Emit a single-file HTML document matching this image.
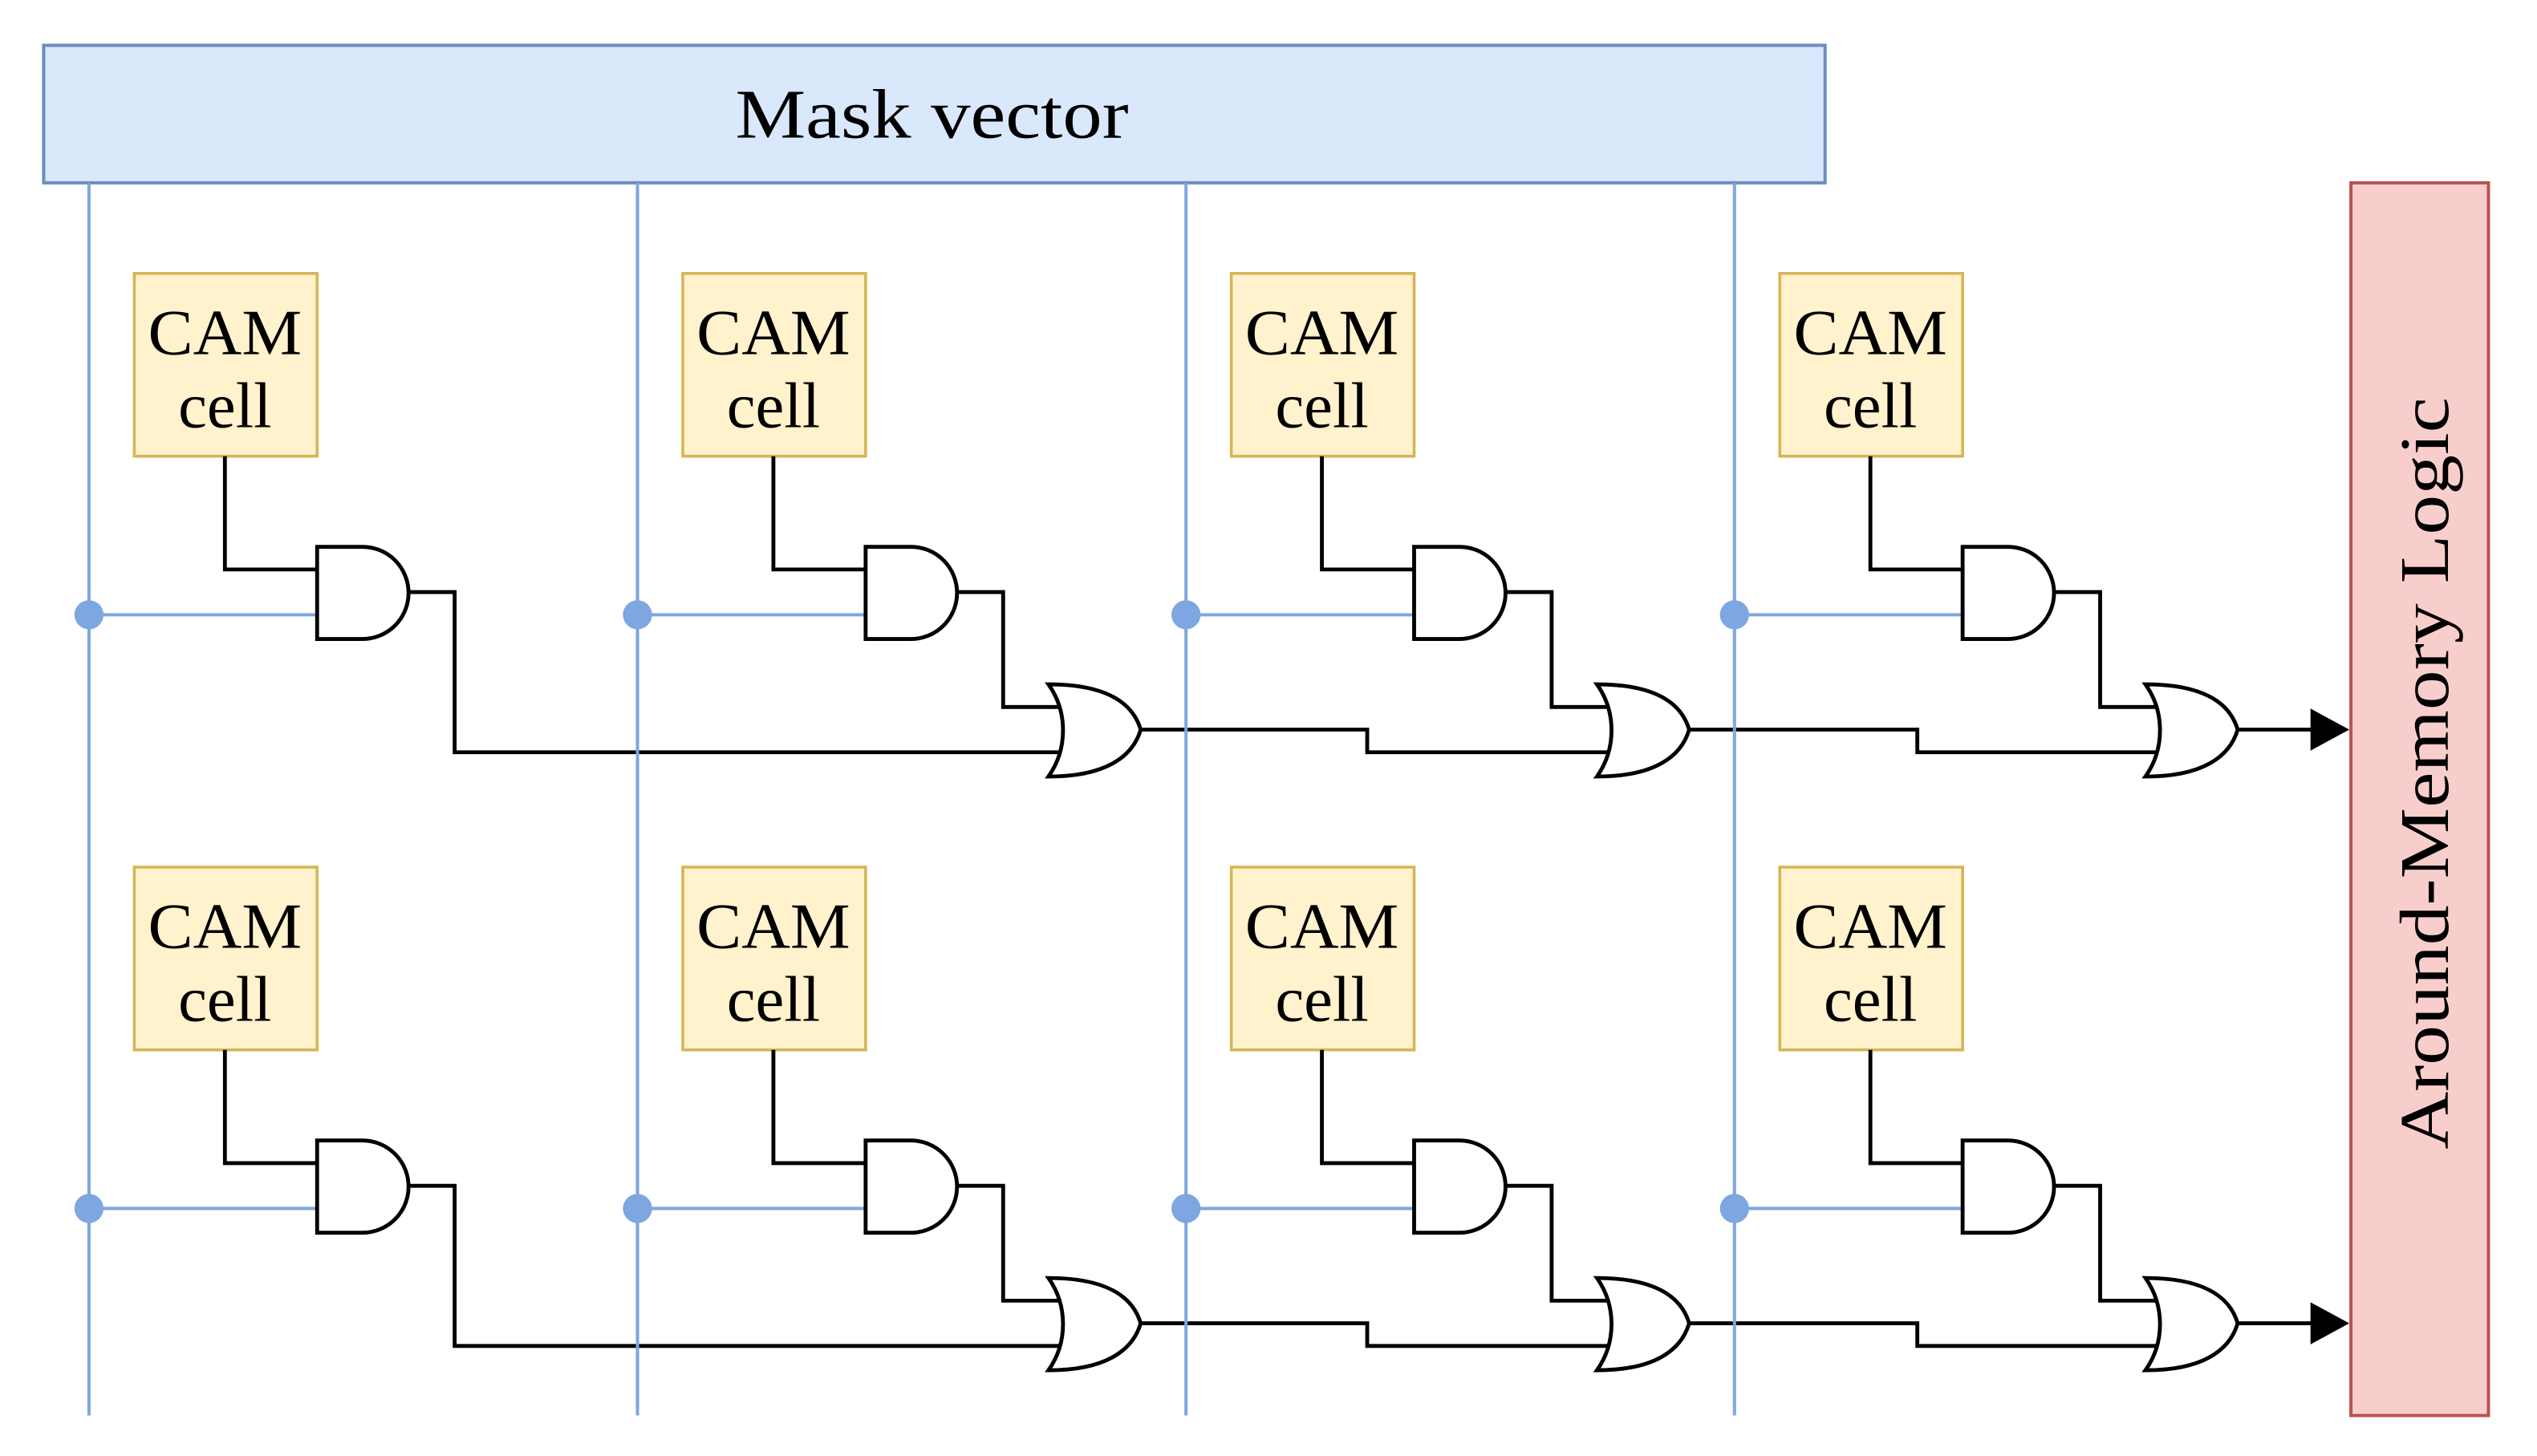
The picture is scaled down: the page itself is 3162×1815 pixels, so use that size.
<!DOCTYPE html>
<html><head><meta charset="utf-8"><style>
html,body{margin:0;padding:0;background:#fff;}
svg{display:block;}
text{font-family:"Liberation Serif",serif;fill:#000;}
</style></head><body>
<svg width="3162" height="1815" viewBox="0 0 1568 900" xmlns="http://www.w3.org/2000/svg">
<defs>
<g id="colbase">
  <rect x="83" y="169" width="113" height="113" fill="#fff2cc" stroke="#d6b656" stroke-width="1.8"/>
  <path d="M139,282 V352 H198" fill="none" stroke="#000" stroke-width="2.4"/>
  <path d="M55,380 H196" fill="none" stroke="#7ea6e0" stroke-width="2"/>
  <circle cx="55" cy="380" r="9" fill="#7ea6e0"/>
  <path d="M196,338 H224 A28.5,28.5 0 0 1 224,395 H196 Z" fill="#fff" stroke="#000" stroke-width="2.4"/>
</g>
<path id="or" d="M0,0 C35,0 52,11 57,28 C52,45 35,57 0,57 C12,40 12,17 0,0 Z" fill="#fff" stroke="#000" stroke-width="2.4"/>
<g id="rowwires" fill="none" stroke="#000" stroke-width="2.4">
  <path d="M252,366 H281 V465 H658"/>
  <path d="M591,366 H620 V437 H658"/>
  <path d="M705,451 H845 V465 H997"/>
  <path d="M930,366 H959 V437 H997"/>
  <path d="M1044,451 H1185 V465 H1336"/>
  <path d="M1269,366 H1298 V437 H1336"/>
  <path d="M1383,451 H1432"/>
</g>
</defs>

<rect x="27" y="28" width="1101" height="85" fill="#dae8fc" stroke="#6c8ebf" stroke-width="2"/>
<text x="576" y="85" font-size="43" text-anchor="middle" textLength="243" lengthAdjust="spacingAndGlyphs">Mask vector</text>

<rect x="1453" y="113" width="85" height="762" fill="#f8cecc" stroke="#b85450" stroke-width="2"/>
<text transform="translate(1513,478) rotate(-90)" font-size="43" text-anchor="middle" textLength="465" lengthAdjust="spacingAndGlyphs">Around-Memory Logic</text>

<g>
  <use href="#rowwires"/>
  <use href="#rowwires" transform="translate(0,367)"/>
  <polygon points="1428,438 1452,451 1428,464" fill="#000"/>
  <polygon points="1428,805 1452,818 1428,831" fill="#000"/>
</g>

<g stroke="#7ea6e0" stroke-width="2">
  <line x1="55" y1="113" x2="55" y2="875"/>
  <line x1="394" y1="113" x2="394" y2="875"/>
  <line x1="733" y1="113" x2="733" y2="875"/>
  <line x1="1072" y1="113" x2="1072" y2="875"/>
</g>

<use href="#colbase"/>
<use href="#colbase" transform="translate(339,0)"/>
<use href="#colbase" transform="translate(678,0)"/>
<use href="#colbase" transform="translate(1017,0)"/>
<use href="#colbase" transform="translate(0,367)"/>
<use href="#colbase" transform="translate(339,367)"/>
<use href="#colbase" transform="translate(678,367)"/>
<use href="#colbase" transform="translate(1017,367)"/>

<use href="#or" transform="translate(648,423)"/>
<use href="#or" transform="translate(987,423)"/>
<use href="#or" transform="translate(1326,423)"/>
<use href="#or" transform="translate(648,790)"/>
<use href="#or" transform="translate(987,790)"/>
<use href="#or" transform="translate(1326,790)"/>

<g font-size="40" text-anchor="middle">
  <text x="139" y="219" textLength="95" lengthAdjust="spacingAndGlyphs">CAM</text><text x="139" y="264">cell</text>
  <text x="478" y="219" textLength="95" lengthAdjust="spacingAndGlyphs">CAM</text><text x="478" y="264">cell</text>
  <text x="817" y="219" textLength="95" lengthAdjust="spacingAndGlyphs">CAM</text><text x="817" y="264">cell</text>
  <text x="1156" y="219" textLength="95" lengthAdjust="spacingAndGlyphs">CAM</text><text x="1156" y="264">cell</text>
  <text x="139" y="586" textLength="95" lengthAdjust="spacingAndGlyphs">CAM</text><text x="139" y="631">cell</text>
  <text x="478" y="586" textLength="95" lengthAdjust="spacingAndGlyphs">CAM</text><text x="478" y="631">cell</text>
  <text x="817" y="586" textLength="95" lengthAdjust="spacingAndGlyphs">CAM</text><text x="817" y="631">cell</text>
  <text x="1156" y="586" textLength="95" lengthAdjust="spacingAndGlyphs">CAM</text><text x="1156" y="631">cell</text>
</g>
</svg>
</body></html>
